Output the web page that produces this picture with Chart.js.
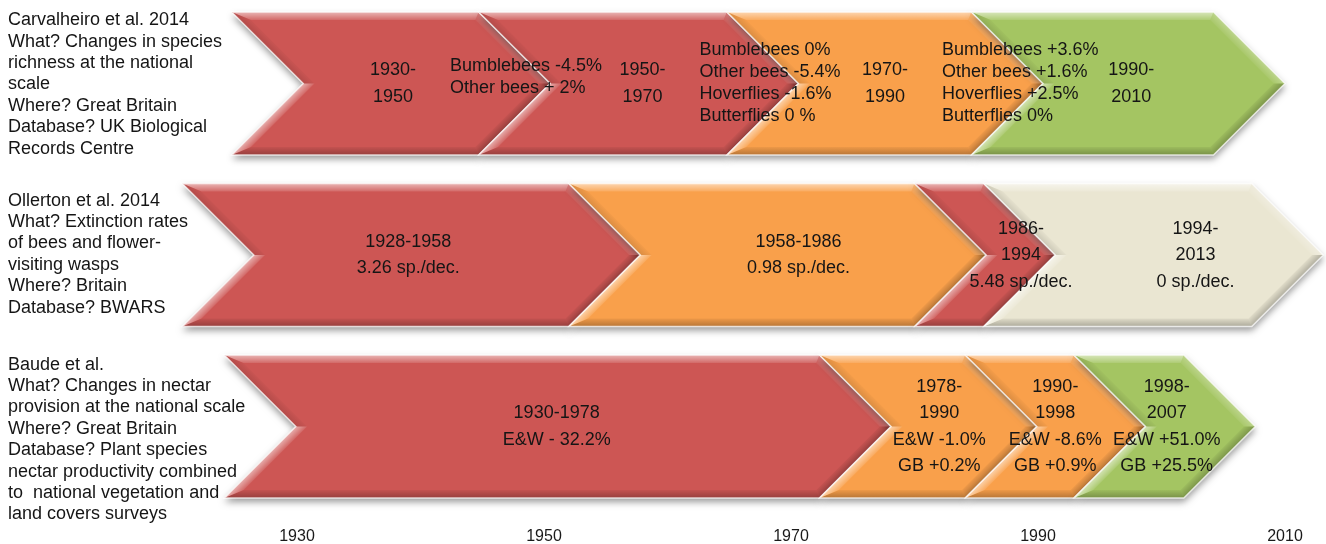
<!DOCTYPE html>
<html>
<head>
<meta charset="utf-8">
<title>Pollinator and nectar trends in Britain</title>
<script src="https://cdn.jsdelivr.net/npm/chart.js@4.4.1/dist/chart.umd.min.js"></script>
<style>
  html, body { margin: 0; padding: 0; background: #fff; }
  #wrap { width: 1326px; height: 544px; }
</style>
</head>
<body>
<div id="wrap"><canvas id="timeline" width="1326" height="544"></canvas></div>
<script>
// ---- data ----

const tickYears = [1930, 1950, 1970, 1990, 2010];

// study descriptions, one line per entry
const descCarvalheiro = ['Carvalheiro et al. 2014', 'What? Changes in species', 'richness at the national',
  'scale', 'Where? Great Britain', 'Database? UK Biological', 'Records Centre'];
const descOllerton = ['Ollerton et al. 2014', 'What? Extinction rates', 'of bees and flower-',
  'visiting wasps', 'Where? Britain', 'Database? BWARS'];
const descBaude = ['Baude et al.', 'What? Changes in nectar', 'provision at the national scale',
  'Where? Great Britain', 'Database? Plant species', 'nectar productivity combined',
  'to  national vegetation and', 'land covers surveys'];

// period boundaries (years, where the arrows meet)
const boundsCarvalheiro = [1930.5, 1950.5, 1970.6, 1990.4, 2010.0];
const boundsOllerton = [1926.5, 1957.8, 1985.8, 1991.4, 2013.1];
const boundsBaude = [1929.9, 1978.1, 1989.9, 1998.7, 2007.6];

// trend class of each period
const trendCarvalheiro = ['loss', 'loss', 'mixed', 'gain'];
const trendOllerton = ['loss', 'mixed', 'loss', 'none'];
const trendBaude = ['loss', 'mixed', 'mixed', 'gain'];

// text written in each arrow
const periodsCarvalheiro = [['1930-', '1950'], ['1950-', '1970'], ['1970-', '1990'], ['1990-', '2010']];
const periodsOllerton = [['1928-1958', '3.26 sp./dec.'], ['1958-1986', '0.98 sp./dec.'],
  ['1986-', '1994', '5.48 sp./dec.'], ['1994-', '2013', '0 sp./dec.']];
const periodsBaude = [['1930-1978', 'E&W - 32.2%'], ['1978-', '1990', 'E&W -1.0%', 'GB +0.2%'],
  ['1990-', '1998', 'E&W -8.6%', 'GB +0.9%'], ['1998-', '2007', 'E&W +51.0%', 'GB +25.5%']];

// richness changes between consecutive Carvalheiro periods
const notesCarvalheiro = [
  ['Bumblebees -4.5%', 'Other bees + 2%'],
  ['Bumblebees 0%', 'Other bees -5.4%', 'Hoverflies -1.6%', 'Butterflies 0 %'],
  ['Bumblebees +3.6%', 'Other bees +1.6%', 'Hoverflies +2.5%', 'Butterflies 0%'],
  null
];

// ---- layout / style ----
const COLORS = { loss: '#CD5654', mixed: '#F9A04B', gain: '#A4C562', none: '#EAE6D2' };
const HALF = 71.5;          // half height of an arrow, px (tip is 45 degrees)
const BEVEL = 8;
const FONT = '18px "Liberation Sans", Arial, Helvetica, sans-serif';
const TEXT = '#151515';
const labelShift = [[2, 4, 0, 3], [-3, 21, 36, 42], [-1, 11, 0, 2]];
const descShift = [1, -1, 13];
const noteShift = [-6, 0, 0];

const rows = [
  { desc: descCarvalheiro, bounds: boundsCarvalheiro, trend: trendCarvalheiro, periods: periodsCarvalheiro, notes: notesCarvalheiro },
  { desc: descOllerton, bounds: boundsOllerton, trend: trendOllerton, periods: periodsOllerton, notes: [] },
  { desc: descBaude, bounds: boundsBaude, trend: trendBaude, periods: periodsBaude, notes: [] }
];

function chevronPoints(x0, x1, yc) {
  const h = HALF, d = HALF;
  return [[x0 - d, yc - h], [x1 - d, yc - h], [x1, yc], [x1 - d, yc + h], [x0 - d, yc + h], [x0, yc]];
}

function insetPoints(pts, b) {
  const n = pts.length;
  const lines = pts.map((p, i) => {
    const q = pts[(i + 1) % n];
    const dx = q[0] - p[0], dy = q[1] - p[1], len = Math.hypot(dx, dy);
    return { px: p[0] - dy / len * b, py: p[1] + dx / len * b, dx, dy };
  });
  return pts.map((p, i) => {
    const a = lines[(i - 1 + n) % n], c = lines[i];
    const den = a.dx * c.dy - a.dy * c.dx;
    const t = ((c.px - a.px) * c.dy - (c.py - a.py) * c.dx) / den;
    return [a.px + t * a.dx, a.py + t * a.dy];
  });
}

function tracePath(ctx, pts) {
  ctx.beginPath();
  pts.forEach((p, i) => i ? ctx.lineTo(p[0], p[1]) : ctx.moveTo(p[0], p[1]));
  ctx.closePath();
}

function drawChevron(ctx, x0, x1, yc, color) {
  const pts = chevronPoints(x0, x1, yc);
  const inner = insetPoints(pts, BEVEL);

  ctx.save();
  ctx.shadowColor = 'rgba(0,0,0,0.4)';
  ctx.shadowBlur = 7;
  ctx.shadowOffsetY = 4;
  tracePath(ctx, pts);
  ctx.fillStyle = color;
  ctx.fill();
  ctx.restore();

  // bevel: each edge strip shaded by how it faces a light from the top
  const lx = -0.3, ly = -0.95;
  const n = pts.length;
  for (let i = 0; i < n; i++) {
    const p = pts[i], q = pts[(i + 1) % n], pi = inner[i], qi = inner[(i + 1) % n];
    const dx = q[0] - p[0], dy = q[1] - p[1], len = Math.hypot(dx, dy);
    const ox = dy / len, oy = -dx / len;
    const k = ox * lx + oy * ly;
    const mx = (p[0] + q[0]) / 2, my = (p[1] + q[1]) / 2;
    const g = ctx.createLinearGradient(mx, my, mx - ox * BEVEL, my - oy * BEVEL);
    if (k > 0) {
      g.addColorStop(0, `rgba(255,255,255,${0.6 * k})`);
      g.addColorStop(1, `rgba(255,255,255,${0.12 * k})`);
    } else {
      g.addColorStop(0, `rgba(0,0,0,${-0.28 * k})`);
      g.addColorStop(1, `rgba(0,0,0,${-0.05 * k})`);
    }
    ctx.beginPath();
    ctx.moveTo(p[0], p[1]); ctx.lineTo(q[0], q[1]); ctx.lineTo(qi[0], qi[1]); ctx.lineTo(pi[0], pi[1]);
    ctx.closePath();
    ctx.fillStyle = g;
    ctx.fill();
  }

  tracePath(ctx, pts);
  ctx.strokeStyle = 'rgba(255,255,255,0.75)';
  ctx.lineWidth = 1.5;
  ctx.stroke();
}

function drawLines(ctx, lines, x, yc, step) {
  const y0 = yc - (lines.length - 1) * step / 2;
  lines.forEach((t, i) => ctx.fillText(t, x, y0 + i * step));
}

const chevronPlugin = {
  id: 'chevrons',
  afterDraw(chart) {
    const { ctx } = chart;
    const xs = chart.scales.x, ys = chart.scales.y;

    rows.forEach((row, r) => {
      const yc = ys.getPixelForValue(r);
      for (let i = 0; i < row.trend.length; i++) {
        drawChevron(ctx, xs.getPixelForValue(row.bounds[i]), xs.getPixelForValue(row.bounds[i + 1]), yc, COLORS[row.trend[i]]);
      }
    });

    ctx.save();
    ctx.font = FONT;
    ctx.fillStyle = TEXT;
    ctx.textBaseline = 'middle';
    rows.forEach((row, r) => {
      const yc = ys.getPixelForValue(r);
      ctx.textAlign = 'left';
      drawLines(ctx, row.desc, 8, yc + descShift[r], 21.4);
      row.periods.forEach((lines, i) => {
        const x0 = xs.getPixelForValue(row.bounds[i]), x1 = xs.getPixelForValue(row.bounds[i + 1]);
        const cx = (x0 + x1) / 2 - HALF / 2 + labelShift[r][i];
        ctx.textAlign = 'center';
        drawLines(ctx, lines, cx, yc, 26.5);
        const note = row.notes[i];
        if (note) {
          ctx.textAlign = 'left';
          drawLines(ctx, note, cx + 57, yc + (i === 0 ? noteShift[0] : 0), 22);
        }
      });
    });
    ctx.restore();
  }
};

new Chart(document.getElementById('timeline'), {
  type: 'scatter',
  data: { datasets: [] },
  options: {
    responsive: false,
    animation: false,
    events: [],
    layout: { padding: { left: 297, right: 41, top: 0, bottom: -5 } },
    plugins: { legend: { display: false }, tooltip: { enabled: false } },
    scales: {
      x: {
        type: 'linear',
        min: 1930,
        max: 2010,
        afterBuildTicks: s => { s.ticks = tickYears.map(v => ({ value: v })); },
        grid: { display: false, drawTicks: false },
        border: { display: false },
        ticks: {
          padding: 3,
          color: '#1a1a1a',
          font: { family: '"Liberation Sans", Arial, Helvetica, sans-serif', size: 16 },
          callback: v => String(v)
        }
      },
      y: {
        type: 'linear',
        min: -0.487,
        max: 2.567,
        reverse: true,
        display: false
      }
    }
  },
  plugins: [chevronPlugin]
});
</script>
</body>
</html>
